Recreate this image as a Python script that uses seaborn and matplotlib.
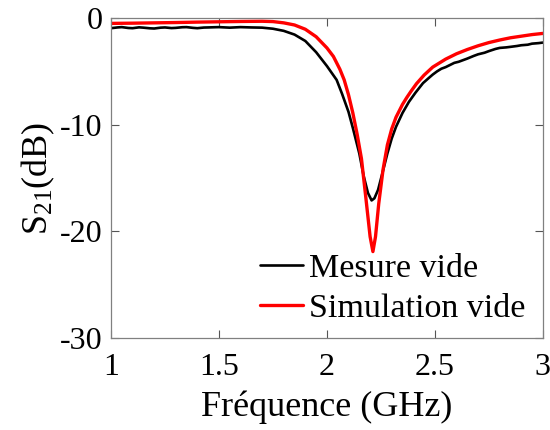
import matplotlib
matplotlib.use("Agg")
import matplotlib.pyplot as plt
import seaborn as sns
import pandas as pd

# Measured (Mesure vide)
freq_mes = [1.00, 1.03, 1.05, 1.08, 1.10, 1.13, 1.15, 1.18, 1.20, 1.23, 1.25, 1.28, 1.30, 1.33, 1.35,
            1.38, 1.40, 1.43, 1.45, 1.48, 1.50, 1.55, 1.60, 1.65, 1.70, 1.75, 1.80, 1.85, 1.90,
            1.95, 2.00, 2.045, 2.07, 2.10, 2.12, 2.15, 2.17, 2.19, 2.207, 2.22, 2.237, 2.26,
            2.28, 2.30, 2.32, 2.35, 2.38, 2.41, 2.445, 2.47, 2.49, 2.51, 2.53, 2.55, 2.57, 2.59,
            2.61, 2.63, 2.65, 2.68, 2.70, 2.73, 2.75, 2.78, 2.80, 2.83, 2.85, 2.88, 2.90, 2.93,
            2.95, 2.98, 3.00]
s21_mes = [-0.95, -0.88, -0.85, -0.93, -0.95, -0.87, -0.90, -0.96, -0.98, -0.90, -0.88, -0.94, -0.92,
           -0.86, -0.85, -0.92, -0.95, -0.89, -0.88, -0.86, -0.85, -0.90, -0.85, -0.88, -0.90,
           -1.00, -1.20, -1.55, -2.15, -3.20, -4.50, -5.80, -7.10, -8.80, -10.30, -12.70, -14.80,
           -16.40, -17.10, -16.90, -16.10, -14.30, -12.70, -11.30, -10.20, -8.90, -7.85, -7.00,
           -6.10, -5.65, -5.30, -5.00, -4.75, -4.60, -4.40, -4.20, -4.10, -3.95, -3.80, -3.55,
           -3.40, -3.25, -3.10, -2.90, -2.80, -2.75, -2.70, -2.62, -2.55, -2.50, -2.40, -2.35, -2.30]

# Simulated (Simulation vide)
freq_sim = [1.00, 1.10, 1.20, 1.30, 1.40, 1.50, 1.60, 1.70, 1.75, 1.80, 1.85, 1.90, 1.95, 2.00,
            2.03, 2.06, 2.08, 2.10, 2.12, 2.14, 2.16, 2.18, 2.20, 2.213, 2.225, 2.24, 2.26, 2.28,
            2.30, 2.32, 2.35, 2.37, 2.39, 2.415, 2.45, 2.49, 2.55, 2.60, 2.65, 2.70, 2.75, 2.80,
            2.85, 2.90, 2.95, 3.00]
s21_sim = [-0.50, -0.48, -0.45, -0.42, -0.38, -0.35, -0.32, -0.30, -0.33, -0.45, -0.65, -1.05,
           -1.75, -2.80, -3.60, -4.80, -5.80, -7.20, -8.90, -10.90, -13.20, -16.80, -20.50, -21.90,
           -20.50, -17.40, -14.20, -11.90, -10.40, -9.30, -8.10, -7.45, -6.85, -6.15, -5.35, -4.60,
           -3.85, -3.35, -2.95, -2.60, -2.30, -2.06, -1.85, -1.70, -1.55, -1.44]

x_ticks = [1, 1.5, 2, 2.5, 3]
x_ticklabels = ["1", "1.5", "2", "2.5", "3"]
y_ticks = [0, -10, -20, -30]
y_ticklabels = ["0", "-10", "-20", "-30"]

df_mes = pd.DataFrame({"f": freq_mes, "s21": s21_mes})
df_sim = pd.DataFrame({"f": freq_sim, "s21": s21_sim})

sns.set_theme(style="white")
plt.rcParams["font.family"] = ["Liberation Serif", "DejaVu Serif"]
plt.rcParams["mathtext.fontset"] = "custom"
plt.rcParams["mathtext.rm"] = "Liberation Serif"
plt.rcParams["mathtext.it"] = "Liberation Serif:italic"
plt.rcParams["axes.unicode_minus"] = False
plt.rcParams["text.color"] = "black"
plt.rcParams["axes.labelcolor"] = "black"
plt.rcParams["xtick.labelcolor"] = "black"
plt.rcParams["ytick.labelcolor"] = "black"

fig = plt.figure(figsize=(5.5, 4.3), dpi=100)
ax = fig.add_axes([0.2018, 0.214, 0.7852, 0.744])

sns.lineplot(data=df_mes, x="f", y="s21", ax=ax, color="black", linewidth=1.9,
             label="Mesure vide", estimator=None, sort=False)
sns.lineplot(data=df_sim, x="f", y="s21", ax=ax, color="#ff0000", linewidth=2.4,
             label="Simulation vide", estimator=None, sort=False)

ax.set_xlim(1, 3)
ax.set_ylim(-30, 0)
ax.set_xticks(x_ticks)
ax.set_xticklabels(x_ticklabels)
ax.set_yticks(y_ticks)
ax.set_yticklabels(y_ticklabels)
ax.tick_params(direction="in", length=6, width=0.8, color="#555555", labelcolor="black",
               labelsize=23, top=True, right=True, bottom=True, left=True, pad=6)
ax.tick_params(axis="x", pad=11)
for sp in ax.spines.values():
    sp.set_color("#808080")
    sp.set_linewidth(0.9)

ax.set_xlabel("Fréquence (GHz)", fontsize=26, labelpad=6, color="black")
ax.set_ylabel("S$_{21}$(dB)", fontsize=26, labelpad=2, color="black")

leg = ax.legend(loc="lower right", frameon=False, fontsize=24.5, handlelength=1.25,
                handletextpad=0.2, borderaxespad=0.1, labelspacing=0.25,
                bbox_to_anchor=(1.0, -0.008))
for t in leg.get_texts():
    t.set_color("black")

fig.savefig("out.png", dpi=100)
